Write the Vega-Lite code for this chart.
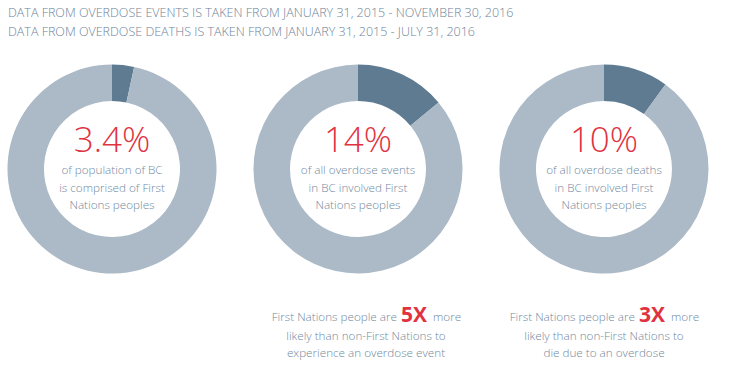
{
  "$schema": "https://vega.github.io/schema/vega-lite/v6.json",
  "padding": {"left": 0, "top": 7, "right": 0, "bottom": 0},
  "background": "white",
  "title": {
    "text": ["DATA FROM OVERDOSE EVENTS IS TAKEN FROM JANUARY 31, 2015 - NOVEMBER 30, 2016", "DATA FROM OVERDOSE DEATHS IS TAKEN FROM JANUARY 31, 2015 - JULY 31, 2016"],
    "anchor": "start",
    "dx": 8,
    "font": "Open Sans",
    "fontSize": 12.5,
    "fontWeight": 300,
    "color": "#6e849a",
    "lineHeight": 18.5,
    "offset": 22
  },
  "config": {
    "view": {"stroke": null},
    "text": {"font": "Open Sans"}
  },
  "spacing": 22,
  "bounds": "flush",
  "hconcat": [
    {
      "width": 224, "height": 218,
      "layer": [
        {
          "data": {"values": [
            {"group": "First Nations", "value": 3.4, "k": 1},
            {"group": "Other", "value": 96.6, "k": 2}
          ]},
          "mark": {"type": "arc", "outerRadius": 104.5, "innerRadius": 68},
          "encoding": {
            "theta": {"field": "value", "type": "quantitative", "stack": true},
            "order": {"field": "k", "type": "quantitative"},
            "color": {"field": "group", "type": "nominal", "scale": {"domain": ["First Nations", "Other"], "range": ["#5e7b91", "#abbac6"]}, "legend": null}
          }
        },
        {
          "data": {"values": [{"t": "3.4%"}]},
          "mark": {"type": "text", "fontSize": 35, "fontWeight": 300, "color": "#e0333f", "baseline": "middle", "align": "center", "dy": -28.5},
          "encoding": {"text": {"field": "t"}}
        },
        {
          "data": {"values": [{"t": ["of population of BC", "is comprised of First", "Nations peoples"]}]},
          "mark": {"type": "text", "fontSize": 11.7, "fontWeight": 300, "color": "#7189a0", "baseline": "middle", "align": "center", "lineHeight": 17.5, "dy": 1},
          "encoding": {"text": {"field": "t"}}
        }
      ]
    },
    {
      "width": 224, "height": 218,
      "layer": [
        {
          "data": {"values": [
            {"group": "First Nations", "value": 14, "k": 1},
            {"group": "Other", "value": 86, "k": 2}
          ]},
          "mark": {"type": "arc", "outerRadius": 104.5, "innerRadius": 68},
          "encoding": {
            "theta": {"field": "value", "type": "quantitative", "stack": true},
            "order": {"field": "k", "type": "quantitative"},
            "color": {"field": "group", "type": "nominal", "scale": {"domain": ["First Nations", "Other"], "range": ["#5e7b91", "#abbac6"]}, "legend": null}
          }
        },
        {
          "data": {"values": [{"t": "14%"}]},
          "mark": {"type": "text", "fontSize": 35, "fontWeight": 300, "color": "#e0333f", "baseline": "middle", "align": "center", "dy": -28.5},
          "encoding": {"text": {"field": "t"}}
        },
        {
          "data": {"values": [{"t": ["of all overdose events", "in BC involved First", "Nations peoples"]}]},
          "mark": {"type": "text", "fontSize": 11.7, "fontWeight": 300, "color": "#7189a0", "baseline": "middle", "align": "center", "lineHeight": 17.5, "dy": 1},
          "encoding": {"text": {"field": "t"}}
        },
        {
          "data": {"values": [{"t": "First Nations people are"}]},
          "mark": {"type": "text", "fontSize": 11.7, "fontWeight": 300, "color": "#7189a0", "baseline": "middle", "align": "right", "dx": 39, "dy": 148},
          "encoding": {"text": {"field": "t"}}
        },
        {
          "data": {"values": [{"t": "5X"}]},
          "mark": {"type": "text", "fontSize": 21, "fontWeight": "bold", "color": "#e0333f", "baseline": "middle", "align": "left", "dx": 43, "dy": 147},
          "encoding": {"text": {"field": "t"}}
        },
        {
          "data": {"values": [{"t": "more"}]},
          "mark": {"type": "text", "fontSize": 11.7, "fontWeight": 300, "color": "#7189a0", "baseline": "middle", "align": "left", "dx": 75, "dy": 148},
          "encoding": {"text": {"field": "t"}}
        },
        {
          "data": {"values": [{"t": ["likely than non-First Nations to", "experience an overdose event"]}]},
          "mark": {"type": "text", "fontSize": 11.7, "fontWeight": 300, "color": "#7189a0", "baseline": "middle", "align": "center", "lineHeight": 17, "dx": 8, "dy": 167},
          "encoding": {"text": {"field": "t"}}
        }
      ]
    },
    {
      "width": 224, "height": 218,
      "layer": [
        {
          "data": {"values": [
            {"group": "First Nations", "value": 10, "k": 1},
            {"group": "Other", "value": 90, "k": 2}
          ]},
          "mark": {"type": "arc", "outerRadius": 104.5, "innerRadius": 68},
          "encoding": {
            "theta": {"field": "value", "type": "quantitative", "stack": true},
            "order": {"field": "k", "type": "quantitative"},
            "color": {"field": "group", "type": "nominal", "scale": {"domain": ["First Nations", "Other"], "range": ["#5e7b91", "#abbac6"]}, "legend": null}
          }
        },
        {
          "data": {"values": [{"t": "10%"}]},
          "mark": {"type": "text", "fontSize": 35, "fontWeight": 300, "color": "#e0333f", "baseline": "middle", "align": "center", "dy": -28.5},
          "encoding": {"text": {"field": "t"}}
        },
        {
          "data": {"values": [{"t": ["of all overdose deaths", "in BC involved First", "Nations peoples"]}]},
          "mark": {"type": "text", "fontSize": 11.7, "fontWeight": 300, "color": "#7189a0", "baseline": "middle", "align": "center", "lineHeight": 17.5, "dy": 1},
          "encoding": {"text": {"field": "t"}}
        },
        {
          "data": {"values": [{"t": "First Nations people are"}]},
          "mark": {"type": "text", "fontSize": 11.7, "fontWeight": 300, "color": "#7189a0", "baseline": "middle", "align": "right", "dx": 31, "dy": 148},
          "encoding": {"text": {"field": "t"}}
        },
        {
          "data": {"values": [{"t": "3X"}]},
          "mark": {"type": "text", "fontSize": 21, "fontWeight": "bold", "color": "#e0333f", "baseline": "middle", "align": "left", "dx": 35, "dy": 147},
          "encoding": {"text": {"field": "t"}}
        },
        {
          "data": {"values": [{"t": "more"}]},
          "mark": {"type": "text", "fontSize": 11.7, "fontWeight": 300, "color": "#7189a0", "baseline": "middle", "align": "left", "dx": 67, "dy": 148},
          "encoding": {"text": {"field": "t"}}
        },
        {
          "data": {"values": [{"t": ["likely than non-First Nations to", "die due to an overdose"]}]},
          "mark": {"type": "text", "fontSize": 11.7, "fontWeight": 300, "color": "#7189a0", "baseline": "middle", "align": "center", "lineHeight": 17, "dy": 167},
          "encoding": {"text": {"field": "t"}}
        }
      ]
    }
  ]
}
